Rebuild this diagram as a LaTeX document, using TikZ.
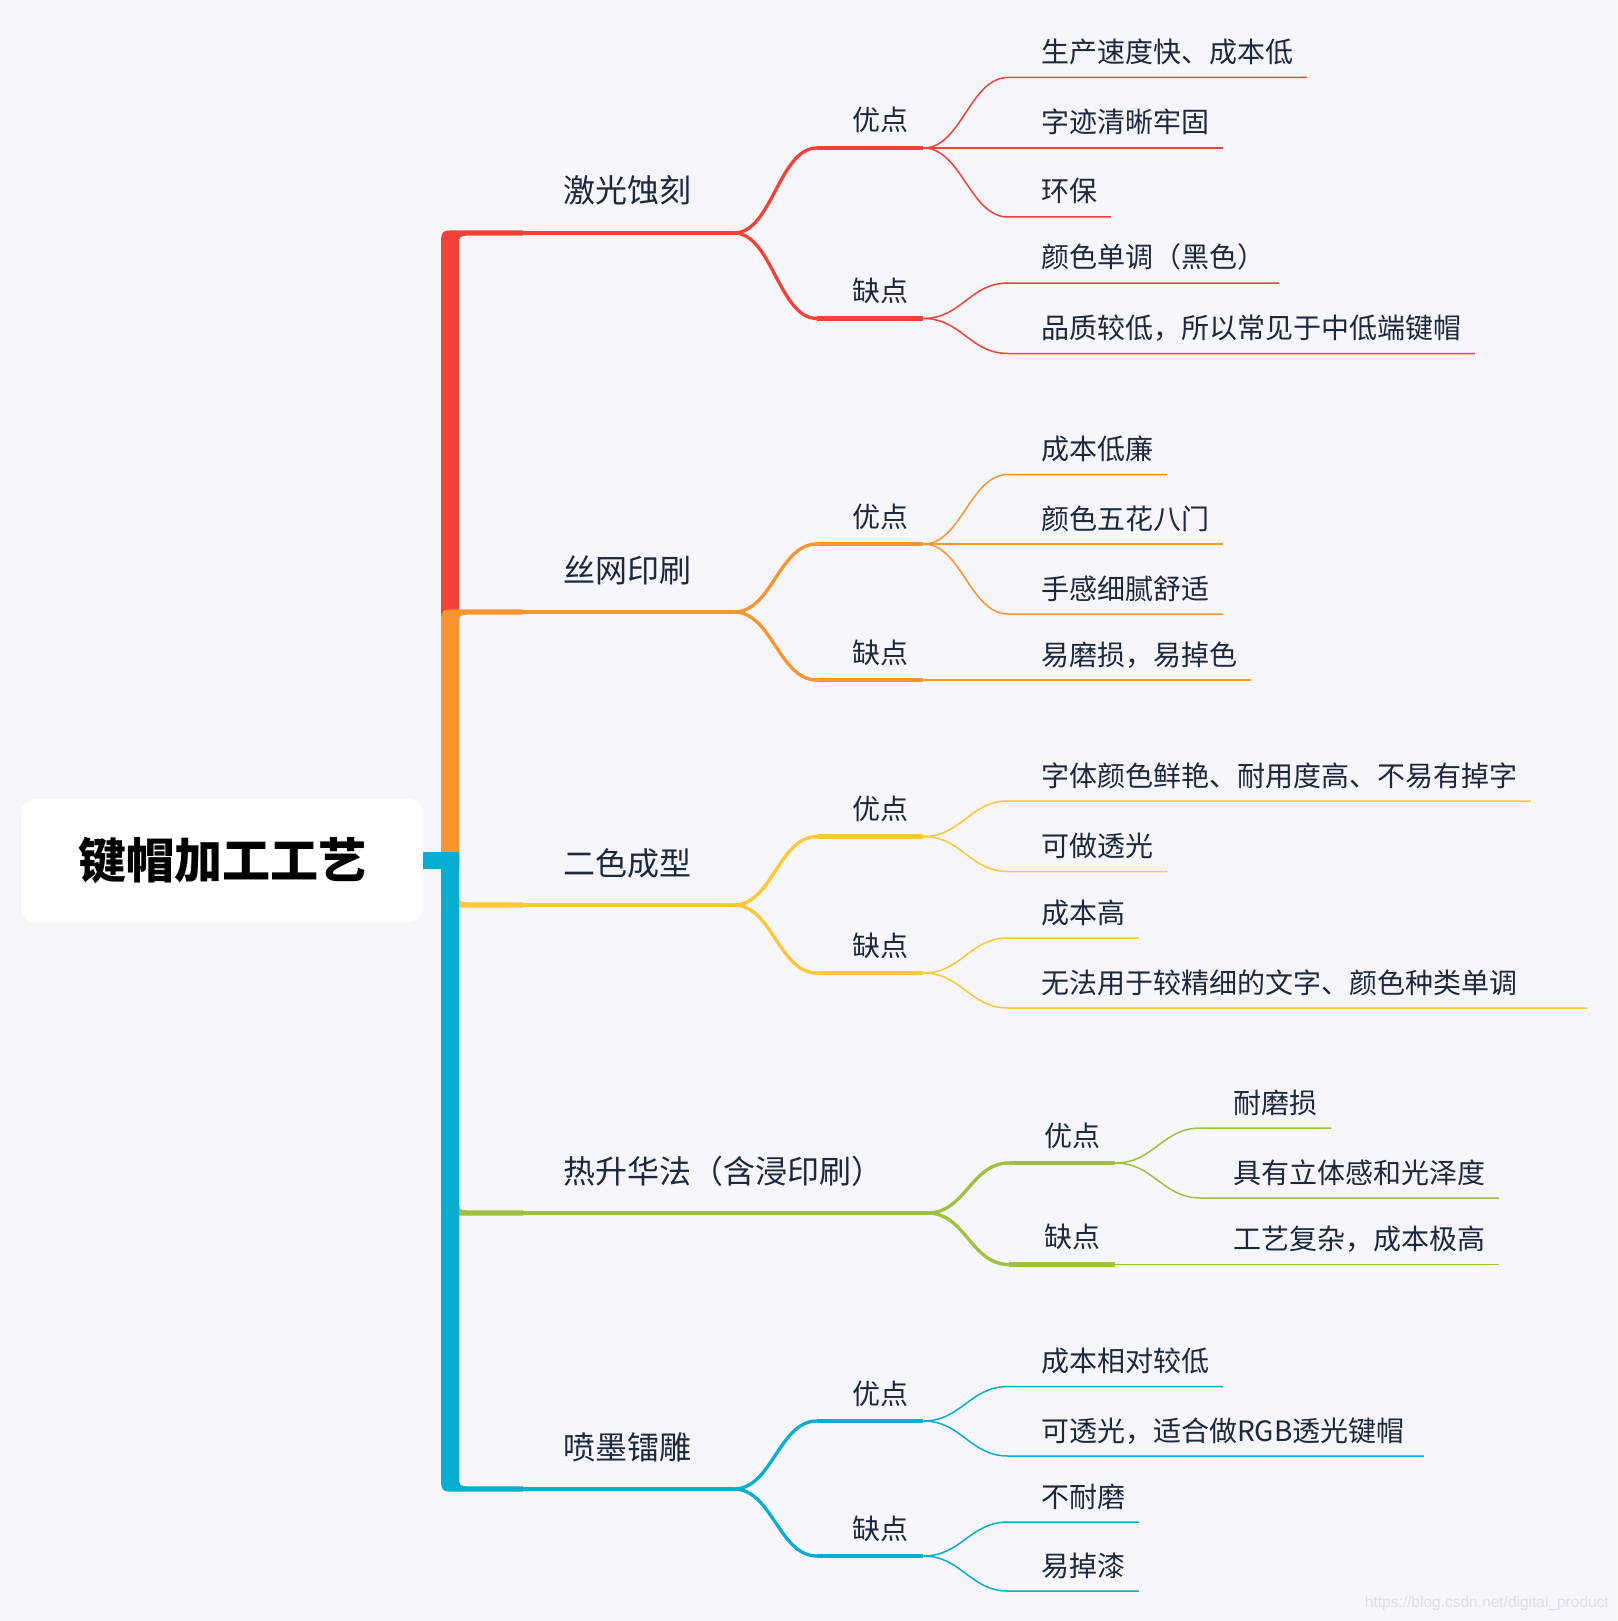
\documentclass[tikz,border=0pt]{standalone}
\usepackage{fontspec}
\newfontfamily\cjk{Noto Sans CJK SC}
\newfontfamily\wmfont{Liberation Sans}
\usepackage{tikz}
\usetikzlibrary{positioning,calc}
\usepackage{xcolor}
\definecolor{bgGray}{RGB}{245,245,250}
\definecolor{laserRed}{RGB}{240,67,56}
\definecolor{silkOrange}{RGB}{249,149,48}
\definecolor{dualYellow}{RGB}{254,199,56}
\definecolor{subGreen}{RGB}{160,192,66}
\definecolor{inkBlue}{RGB}{8,173,207}
\definecolor{textNavy}{RGB}{28,40,62}
\definecolor{wmGray}{RGB}{222,222,228}

% trunk piece going up / down to a branch at height #2
\newcommand{\trunkup}[2]{%
  \fill[#1] (459,869) -- (441,869) -- (441,#2+14.3) .. controls (441,#2-2.7) .. (458,#2-2.7)
    -- (523,#2-2.7) -- (523,#2+2.7) -- (470,#2+2.7) .. controls (459,#2+2.7) .. (459,#2+13.7) -- cycle;}
\newcommand{\trunkdown}[2]{%
  \fill[#1] (459,852) -- (441,852) -- (441,#2-14.3) .. controls (441,#2+2.7) .. (458,#2+2.7)
    -- (523,#2+2.7) -- (523,#2-2.7) -- (470,#2-2.7) .. controls (459,#2-2.7) .. (459,#2-13.7) -- cycle;}
% curve from a split point to the underline of a side node
\newcommand{\sideline}[3]{%
  \draw[stemline, #1] (#2) .. controls +(38,0) and +(-38,0) .. ($(#3.base west)+(-35,17)$);
  \draw[barline, #1] ($(#3.base west)+(-35,17)$) -- ($(#3.base east)+(15,17)$) coordinate (#3-e);}
% curve from a side node to the underline of a leaf (optional: overhang past the text)
\newcommand{\leafline}[4][13.5]{%
  \draw[twigline, #2] (#3) .. controls +(38,0) and +(-38,0) .. ($(#4.base west)+(-33,15)$)
    -- ($(#4.base east)+(#1,15)$);}

\begin{document}
\begin{tikzpicture}[
    x=1pt, y=-1pt,
    rootbox/.style={fill=white, rounded corners=14pt, minimum width=402pt, minimum height=123pt,
      inner sep=0pt, font=\cjk\bfseries\fontsize{48}{48}\selectfont, text=black},
    topictext/.style={anchor=base west, inner sep=0pt, text=textNavy, font=\cjk\fontsize{32}{32}\selectfont},
    sidetext/.style={anchor=base west, inner sep=0pt, text=textNavy, font=\cjk\fontsize{28}{28}\selectfont},
    leaftext/.style={anchor=base west, inner sep=0pt, text=textNavy, font=\cjk\fontsize{28}{28}\selectfont},
    stemline/.style={line width=3.3pt},
    barline/.style={line width=4.2pt},
    twigline/.style={line width=1.5pt}
  ]
  \useasboundingbox (0,0) rectangle (1617,1621);
  \fill[bgGray] (0,0) rectangle (1617,1621);

  % Root
  \node[rootbox] (root) at (222,860.5) {键帽加工工艺};

  % Trunk
  \trunkup{laserRed}{233}
  \trunkup{silkOrange}{612}
  \trunkdown{dualYellow}{905}
  \trunkdown{subGreen}{1213}
  \trunkdown{inkBlue}{1489}
  \fill[inkBlue] ($(root.east)+(0,-8.5)$) rectangle (459,869);

  % 激光蚀刻
  \node[topictext] (laser) at (563,203) {激光蚀刻};
  \coordinate (laser-s) at (520,233);
  \coordinate (laser-j) at (734,233);
  \draw[stemline, laserRed] (laser-s) -- (laser-j);
  \node[sidetext] (laser-pro) at (852,131) {优点};
  \node[sidetext] (laser-con) at (852,301.5) {缺点};
  \sideline{laserRed}{laser-j}{laser-pro}
  \sideline{laserRed}{laser-j}{laser-con}
  \node[leaftext] (laser-p1) at (1041,62.5) {生产速度快、成本低};
  \node[leaftext] (laser-p2) at (1041,133) {字迹清晰牢固};
  \node[leaftext] (laser-p3) at (1041,202) {环保};
  \node[leaftext] (laser-c1) at (1041,268) {颜色单调（黑色）};
  \node[leaftext] (laser-c2) at (1041,338.5) {品质较低，所以常见于中低端键帽};
  \leafline{laserRed}{laser-pro-e}{laser-p1}
  \leafline{laserRed}{laser-pro-e}{laser-p2}
  \leafline{laserRed}{laser-pro-e}{laser-p3}
  \leafline{laserRed}{laser-con-e}{laser-c1}
  \leafline{laserRed}{laser-con-e}{laser-c2}

  % 丝网印刷
  \node[topictext] (silk) at (563,582) {丝网印刷};
  \coordinate (silk-s) at (520,612);
  \coordinate (silk-j) at (734,612);
  \draw[stemline, silkOrange] (silk-s) -- (silk-j);
  \node[sidetext] (silk-pro) at (852,527) {优点};
  \node[sidetext] (silk-con) at (852,663) {缺点};
  \sideline{silkOrange}{silk-j}{silk-pro}
  \sideline{silkOrange}{silk-j}{silk-con}
  \node[leaftext] (silk-p1) at (1041,459.5) {成本低廉};
  \node[leaftext] (silk-p2) at (1041,529) {颜色五花八门};
  \node[leaftext] (silk-p3) at (1041,599) {手感细腻舒适};
  \node[leaftext] (silk-c1) at (1041,665) {易磨损，易掉色};
  \leafline{silkOrange}{silk-pro-e}{silk-p1}
  \leafline{silkOrange}{silk-pro-e}{silk-p2}
  \leafline{silkOrange}{silk-pro-e}{silk-p3}
  \leafline{silkOrange}{silk-con-e}{silk-c1}

  % 二色成型
  \node[topictext] (dual) at (563,875) {二色成型};
  \coordinate (dual-s) at (520,905);
  \coordinate (dual-j) at (734,905);
  \draw[stemline, dualYellow] (dual-s) -- (dual-j);
  \node[sidetext] (dual-pro) at (852,819.5) {优点};
  \node[sidetext] (dual-con) at (852,956) {缺点};
  \sideline{dualYellow}{dual-j}{dual-pro}
  \sideline{dualYellow}{dual-j}{dual-con}
  \node[leaftext] (dual-p1) at (1041,786) {字体颜色鲜艳、耐用度高、不易有掉字};
  \node[leaftext] (dual-p2) at (1041,856.5) {可做透光};
  \node[leaftext] (dual-c1) at (1041,923) {成本高};
  \node[leaftext] (dual-c2) at (1041,993) {无法用于较精细的文字、颜色种类单调};
  \leafline{dualYellow}{dual-pro-e}{dual-p1}
  \leafline{dualYellow}{dual-pro-e}{dual-p2}
  \leafline{dualYellow}{dual-con-e}{dual-c1}
  \leafline[70]{dualYellow}{dual-con-e}{dual-c2}

  % 热升华法
  \node[topictext] (sub) at (563,1183) {热升华法（含浸印刷）};
  \coordinate (sub-s) at (520,1213);
  \coordinate (sub-j) at (927.5,1213);
  \draw[stemline, subGreen] (sub-s) -- (sub-j);
  \node[sidetext] (sub-pro) at (1044,1146) {优点};
  \node[sidetext] (sub-con) at (1044,1247.5) {缺点};
  \sideline{subGreen}{sub-j}{sub-pro}
  \sideline{subGreen}{sub-j}{sub-con}
  \node[leaftext] (sub-p1) at (1233.5,1113) {耐磨损};
  \node[leaftext] (sub-p2) at (1233.5,1183) {具有立体感和光泽度};
  \node[leaftext] (sub-c1) at (1233.5,1249.5) {工艺复杂，成本极高};
  \leafline{subGreen}{sub-pro-e}{sub-p1}
  \leafline{subGreen}{sub-pro-e}{sub-p2}
  \leafline{subGreen}{sub-con-e}{sub-c1}

  % 喷墨镭雕
  \node[topictext] (ink) at (563,1459) {喷墨镭雕};
  \coordinate (ink-s) at (520,1489);
  \coordinate (ink-j) at (734,1489);
  \draw[stemline, inkBlue] (ink-s) -- (ink-j);
  \node[sidetext] (ink-pro) at (852,1404) {优点};
  \node[sidetext] (ink-con) at (852,1539) {缺点};
  \sideline{inkBlue}{ink-j}{ink-pro}
  \sideline{inkBlue}{ink-j}{ink-con}
  \node[leaftext] (ink-p1) at (1041,1371.5) {成本相对较低};
  \node[leaftext] (ink-p2) at (1041,1441) {可透光，适合做RGB透光键帽};
  \node[leaftext] (ink-c1) at (1041,1507) {不耐磨};
  \node[leaftext] (ink-c2) at (1041,1576) {易掉漆};
  \leafline{inkBlue}{ink-pro-e}{ink-p1}
  \leafline[19]{inkBlue}{ink-pro-e}{ink-p2}
  \leafline{inkBlue}{ink-con-e}{ink-c1}
  \leafline{inkBlue}{ink-con-e}{ink-c2}

  % Watermark
  \node[anchor=east, inner sep=0pt, text=wmGray, font=\wmfont\fontsize{15.5}{15.5}\selectfont]
    (wm) at (1609,1603) {https://blog.csdn.net/digital\_product};
\end{tikzpicture}
\end{document}
